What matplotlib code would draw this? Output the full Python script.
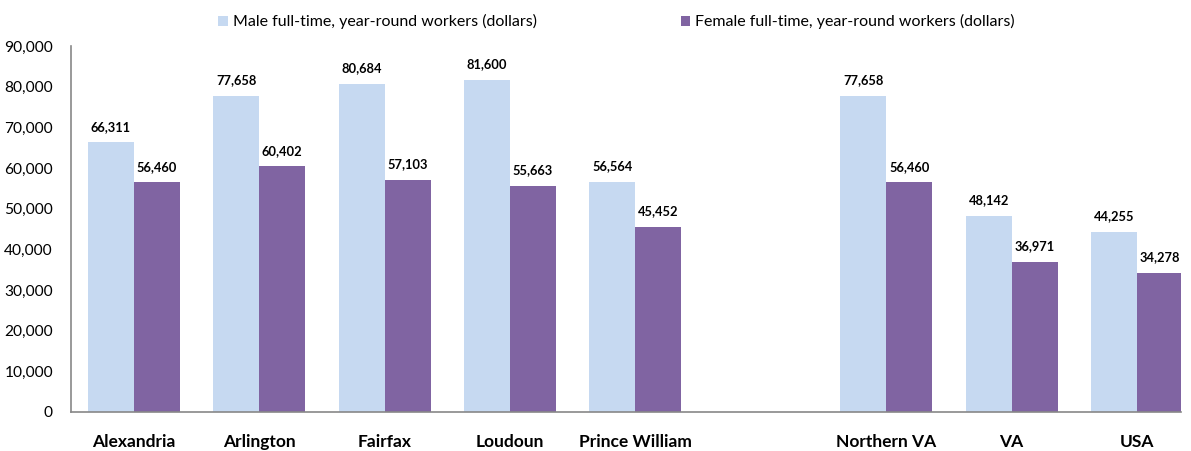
import numpy as np
import matplotlib.pyplot as plt

plt.rcParams['font.family'] = ['Lato', 'DejaVu Sans']

categories = ["Alexandria", "Arlington", "Fairfax", "Loudoun", "Prince William",
              "", "Northern VA", "VA", "USA"]
male = [66311, 77658, 80684, 81600, 56564, None, 77658, 48142, 44255]
female = [56460, 60402, 57103, 55663, 45452, None, 56460, 36971, 34278]
male_label = "Male full-time, year-round workers (dollars)"
female_label = "Female full-time, year-round workers (dollars)"

male_color = "#C6D9F1"
female_color = "#8064A2"

fig = plt.figure(figsize=(11.91, 4.51), dpi=100)
ax = fig.add_axes([0.0596, 0.0865, 0.932, 0.8115])

x = np.arange(len(categories))
w = 0.367
mv = [np.nan if v is None else v for v in male]
fv = [np.nan if v is None else v for v in female]
b1 = ax.bar(x - w / 2, mv, w, color=male_color, label=male_label)
b2 = ax.bar(x + w / 2, fv, w, color=female_color, label=female_label)

for bars, vals in ((b1, male), (b2, female)):
    for rect, v in zip(bars, vals):
        if v is None:
            continue
        ax.annotate(f"{v:,}", (rect.get_x() + rect.get_width() / 2, v),
                    xytext=(0, 7), textcoords="offset points",
                    ha="center", va="bottom", fontsize=9.3, fontweight="bold")

ax.set_xlim(-0.5, 8.35)
ax.set_ylim(0, 90000)
ax.set_yticks(np.arange(0, 90001, 10000))
ax.yaxis.set_major_formatter(plt.FuncFormatter(lambda v, p: f"{int(v):,}"))
ax.set_xticks(x)
ax.set_xticklabels(categories, fontweight="bold", fontsize=12.5)
ax.tick_params(axis="y", length=0, labelsize=11.2, pad=13)
ax.tick_params(axis="x", length=0, pad=16)
for s in ("top", "right"):
    ax.spines[s].set_visible(False)
for s in ("left", "bottom"):
    ax.spines[s].set_color("#888888")
    ax.spines[s].set_linewidth(1.2)

fig.legend(loc="upper center", bbox_to_anchor=(0.5176, 1.0), ncol=2, frameon=False,
           fontsize=11.5, handlelength=0.6, handleheight=0.6, handletextpad=0.3,
           columnspacing=9.0)

fig.savefig("out.png", dpi=100)
